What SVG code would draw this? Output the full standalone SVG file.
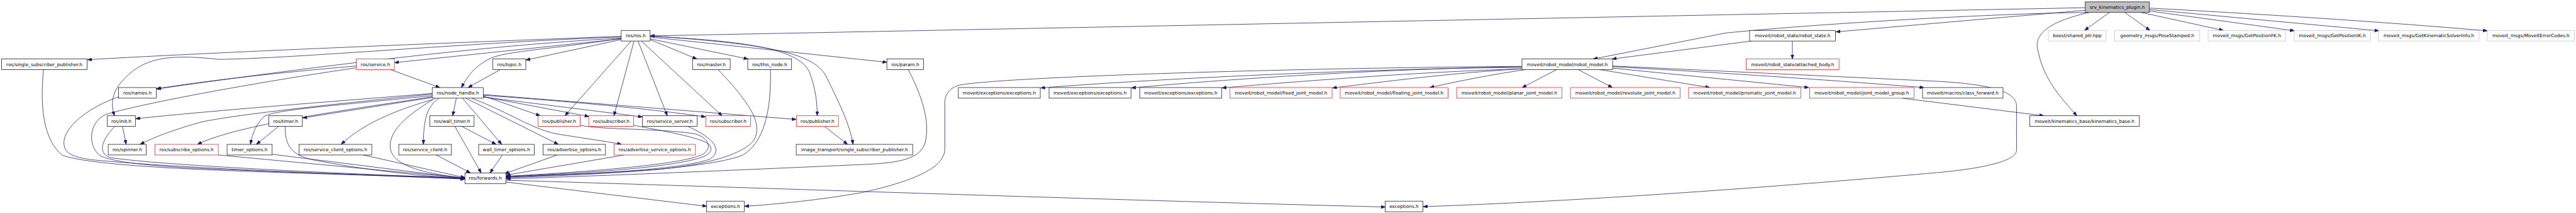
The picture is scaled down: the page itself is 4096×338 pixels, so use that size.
<svg xmlns="http://www.w3.org/2000/svg" width="4096" height="338" viewBox="0 0 4096 338">
<style>
.e{fill:none;stroke:#191970;stroke-width:1.3;marker-end:url(#arr)}
.n rect{fill:#fff;stroke:#000;stroke-width:1.2}
.r rect{fill:#fff;stroke:#ff0000;stroke-width:1.2}
.g rect{fill:#fff;stroke:#bfbfbf;stroke-width:1.2}
.s rect{fill:#bfbfbf;stroke:#000;stroke-width:1.2}
text{font-family:"DejaVu Sans","Liberation Sans",sans-serif;font-size:12.6px;text-anchor:middle;fill:#000}
</style>
<defs>
<marker id="arr" viewBox="0 0 12 9" refX="12" refY="4.5" markerWidth="12" markerHeight="9" markerUnits="userSpaceOnUse" orient="auto"><path d="M0,0 L12,4.5 L0,9 z" fill="#191970" stroke="#191970" stroke-width="1"/></marker>
</defs>
<rect width="4096" height="338" fill="#fff"/>
<g transform="scale(0.5814)">
<g id="edges">
<path class="e" d="M5703,21 L1778,98"/>
<path class="e" d="M5703,28 L5021,87"/>
<path class="e" d="M5712,34 C5500,35 5000,62 4720,90 L4357,161"/>
<path class="e" d="M5713,34 C5600,60 5560,95 5574,140 C5590,220 5640,270 5680,316"/>
<path class="e" d="M5769,34 L5701,83"/>
<path class="e" d="M5811,34 L5880,83"/>
<path class="e" d="M5856,34 L6081,83"/>
<path class="e" d="M5878,30 L6275,84"/>
<path class="e" d="M5878,26 L6506,84"/>
<path class="e" d="M5878,22 Q6400,50 6803,84"/>
<path class="e" d="M4902,112 L4902,161"/>
<path class="e" d="M4790,112 L4409,161"/>
<path class="e" d="M4162,184 C3800,186 3200,212 2846,240"/>
<path class="e" d="M4162,182 C3800,188 3400,212 3094,240"/>
<path class="e" d="M4162,188 C3900,195 3550,222 3342,240"/>
<path class="e" d="M4162,188 C3950,200 3750,228 3644,240"/>
<path class="e" d="M4172,190 C4050,208 3960,228 3910,239"/>
<path class="e" d="M4257,190 L4163,239"/>
<path class="e" d="M4316,190 L4410,239"/>
<path class="e" d="M4375,190 L4676,239"/>
<path class="e" d="M4410,186 L4947,239"/>
<path class="e" d="M4410,182 C4700,198 5000,218 5262,239"/>
<path class="e" d="M4410,180 L5300,222 C5480,232 5515,260 5515,290 L5515,410 C5515,440 5420,460 5300,471 C4800,515 4300,550 3892,564"/>
<path class="e" d="M4162,181 C3500,186 2750,210 2625,232 C2595,240 2584,260 2584,280 L2584,405 C2584,445 2540,485 2360,525 C2250,545 2120,558 2036,563"/>
<path class="e" d="M5202,268 L5590,316"/>
<path class="e" d="M1699,99 C1200,118 600,142 239,163"/>
<path class="e" d="M1699,101 C1300,115 800,160 600,162 C480,150 400,150 340,215 C300,255 305,290 313,316"/>
<path class="e" d="M1699,104 C1300,125 800,190 428,243"/>
<path class="e" d="M1699,106 L1079,171"/>
<path class="e" d="M1699,108 L1438,164"/>
<path class="e" d="M1699,105 C1500,135 1380,140 1340,160 C1300,180 1280,205 1262,239"/>
<path class="e" d="M1726,112 L1545,316"/>
<path class="e" d="M1734,112 L1679,316"/>
<path class="e" d="M1745,112 L1825,316"/>
<path class="e" d="M1754,112 L1975,316"/>
<path class="e" d="M1778,108 L1906,161"/>
<path class="e" d="M1778,106 L2046,161"/>
<path class="e" d="M1778,101 L2426,170"/>
<path class="e" d="M1778,99 C2050,112 2190,135 2215,200 C2230,240 2235,280 2235,316"/>
<path class="e" d="M1778,98 C2100,120 2230,145 2260,210 C2290,270 2325,340 2333,394"/>
<path class="e" d="M975,180 C800,195 600,215 428,242"/>
<path class="e" d="M975,185 C700,225 400,280 290,312 C240,335 240,400 275,426 C330,450 500,458 600,462 C900,475 1100,480 1272,485"/>
<path class="e" d="M1068,190 L1203,239"/>
<path class="e" d="M1368,190 L1280,239"/>
<path class="e" d="M1182,255 C900,278 600,300 371,324"/>
<path class="e" d="M1182,257 C900,285 600,318 540,336 C470,356 420,375 383,394"/>
<path class="e" d="M1182,264 C950,300 650,340 540,394"/>
<path class="e" d="M1182,261 C900,290 740,300 720,320 C700,340 690,365 685,394"/>
<path class="e" d="M1182,266 L828,322"/>
<path class="e" d="M1182,272 C1050,310 980,350 933,394"/>
<path class="e" d="M1200,268 C1170,290 1158,320 1158,394"/>
<path class="e" d="M1190,268 C1120,310 1070,350 1067,395 C1065,440 1120,470 1272,486"/>
<path class="e" d="M1248,268 L1238,316"/>
<path class="e" d="M1265,268 L1372,394"/>
<path class="e" d="M1274,268 L1527,394"/>
<path class="e" d="M1290,268 C1400,310 1450,350 1520,365 C1600,378 1660,386 1700,394"/>
<path class="e" d="M1322,262 L1478,316"/>
<path class="e" d="M1322,264 L1611,318"/>
<path class="e" d="M1322,265 L1757,319"/>
<path class="e" d="M1322,258 L2178,326"/>
<path class="e" d="M1322,260 C1600,280 1800,300 1930,319"/>
<path class="e" d="M119,190 C110,280 115,380 171,424 C260,455 600,465 800,472 C1000,478 1150,483 1272,489"/>
<path class="e" d="M325,264 C250,290 180,340 175,385 C172,420 200,428 250,436 C500,460 1000,478 1272,488"/>
<path class="e" d="M314,345 C280,380 265,415 300,430 C450,452 900,472 1272,487"/>
<path class="e" d="M335,345 L345,394"/>
<path class="e" d="M597,423 L1272,486"/>
<path class="e" d="M744,421 L1272,487"/>
<path class="e" d="M780,345 C780,390 790,420 850,435 C1000,465 1150,480 1272,488"/>
<path class="e" d="M762,345 L701,394"/>
<path class="e" d="M993,423 L1272,485"/>
<path class="e" d="M1193,423 L1287,472"/>
<path class="e" d="M1244,345 L1316,472"/>
<path class="e" d="M1263,345 L1357,394"/>
<path class="e" d="M1374,423 L1340,472"/>
<path class="e" d="M1524,423 L1380,474"/>
<path class="e" d="M1707,423 L1384,478"/>
<path class="e" d="M1881,345 C1950,375 1980,410 1940,435 C1850,465 1600,475 1384,482"/>
<path class="e" d="M1587,342 C1650,355 1800,350 1900,365 C1950,380 1945,415 1913,425 C1850,450 1600,470 1384,481"/>
<path class="e" d="M1733,342 C1800,355 1920,375 1940,395 C1955,415 1930,428 1900,435 C1800,460 1600,472 1384,482"/>
<path class="e" d="M1964,190 C2050,280 2090,340 2060,385 C2020,430 1900,455 1770,465 C1600,475 1450,480 1384,484"/>
<path class="e" d="M2107,190 C2110,300 2090,390 2030,424 C1950,455 1700,475 1384,485"/>
<path class="e" d="M2484,190 C2520,260 2545,330 2530,390 C2515,440 2440,445 2360,449 C2000,465 1600,482 1384,488"/>
<path class="e" d="M1384,497 L1933,563"/>
<path class="e" d="M1384,492 C2000,510 3000,545 3789,565"/>
<path class="e" d="M2255,345 L2318,394"/>
</g>
<g id="srv" class="s"><rect x="5703" y="5" width="175" height="29"/><text x="5790.5" y="24">srv_kinematics_plugin.h</text></g>
<g id="ros_h" class="n"><rect x="1699" y="83" width="79" height="29"/><text x="1738.5" y="102">ros/ros.h</text></g>
<g id="robot_state" class="n"><rect x="4785" y="83" width="235" height="29"/><text x="4902.5" y="102">moveit/robot_state/robot_state.h</text></g>
<g id="shared_ptr" class="g"><rect x="5602" y="83" width="158" height="29"/><text x="5681" y="102">boost/shared_ptr.hpp</text></g>
<g id="pose" class="g"><rect x="5783.5" y="83" width="232.5" height="29"/><text x="5899.75" y="102">geometry_msgs/PoseStamped.h</text></g>
<g id="fk" class="g"><rect x="6039" y="83" width="212" height="29"/><text x="6145" y="102">moveit_msgs/GetPositionFK.h</text></g>
<g id="ik" class="g"><rect x="6274.5" y="83" width="208" height="29"/><text x="6378.5" y="102">moveit_msgs/GetPositionIK.h</text></g>
<g id="gksi" class="g"><rect x="6505" y="83" width="275" height="29"/><text x="6642.5" y="102">moveit_msgs/GetKinematicSolverInfo.h</text></g>
<g id="mec" class="g"><rect x="6802.5" y="83" width="238.5" height="29"/><text x="6921.75" y="102">moveit_msgs/MoveItErrorCodes.h</text></g>
<g id="ssp" class="n"><rect x="4.5" y="161" width="233.5" height="29"/><text x="121.25" y="180">ros/single_subscriber_publisher.h</text></g>
<g id="service" class="r"><rect x="974.7" y="161" width="104" height="29"/><text x="1026.7" y="180">ros/service.h</text></g>
<g id="topic" class="n"><rect x="1348" y="161" width="90" height="29"/><text x="1393" y="180">ros/topic.h</text></g>
<g id="master" class="n"><rect x="1894" y="161" width="103" height="29"/><text x="1945.5" y="180">ros/master.h</text></g>
<g id="this_node" class="n"><rect x="2045" y="161" width="120" height="29"/><text x="2105" y="180">ros/this_node.h</text></g>
<g id="param" class="n"><rect x="2425.5" y="161" width="100.5" height="29"/><text x="2475.75" y="180">ros/param.h</text></g>
<g id="robot_model" class="n"><rect x="4162.4" y="161" width="248" height="29"/><text x="4286.4" y="180">moveit/robot_model/robot_model.h</text></g>
<g id="attached_body" class="r"><rect x="4775.7" y="161" width="253.7" height="29"/><text x="4902.55" y="180">moveit/robot_state/attached_body.h</text></g>
<g id="names" class="n"><rect x="324.4" y="239" width="102.8" height="29"/><text x="375.8" y="258">ros/names.h</text></g>
<g id="node_handle" class="n"><rect x="1182" y="239" width="140" height="29"/><text x="1252" y="258">ros/node_handle.h</text></g>
<g id="mex1" class="n"><rect x="2621" y="239" width="224" height="29"/><text x="2733" y="258">moveit/exceptions/exceptions.h</text></g>
<g id="mex2" class="n"><rect x="2869" y="239" width="224" height="29"/><text x="2981" y="258">moveit/exceptions/exceptions.h</text></g>
<g id="mex3" class="n"><rect x="3117" y="239" width="224.4" height="29"/><text x="3229.2" y="258">moveit/exceptions/exceptions.h</text></g>
<g id="fixed" class="r"><rect x="3364" y="239" width="279" height="29"/><text x="3503.5" y="258">moveit/robot_model/fixed_joint_model.h</text></g>
<g id="floating" class="r"><rect x="3665.3" y="239" width="295" height="29"/><text x="3812.8" y="258">moveit/robot_model/floating_joint_model.h</text></g>
<g id="planar" class="r"><rect x="3983.7" y="239" width="288.3" height="29"/><text x="4127.85" y="258">moveit/robot_model/planar_joint_model.h</text></g>
<g id="revolute" class="r"><rect x="4295" y="239" width="300" height="29"/><text x="4445" y="258">moveit/robot_model/revolute_joint_model.h</text></g>
<g id="prismatic" class="r"><rect x="4618" y="239" width="307" height="29"/><text x="4771.5" y="258">moveit/robot_model/prismatic_joint_model.h</text></g>
<g id="jmg" class="r"><rect x="4949" y="239" width="285.5" height="29"/><text x="5091.75" y="258">moveit/robot_model/joint_model_group.h</text></g>
<g id="class_forward" class="n"><rect x="5258" y="239" width="220" height="29"/><text x="5368" y="258">moveit/macros/class_forward.h</text></g>
<g id="init" class="n"><rect x="293" y="316" width="77.7" height="29"/><text x="331.85" y="335">ros/init.h</text></g>
<g id="timer" class="n"><rect x="735.3" y="316" width="91.7" height="29"/><text x="781.15" y="335">ros/timer.h</text></g>
<g id="wall_timer" class="n"><rect x="1175.3" y="316" width="121.4" height="29"/><text x="1236" y="335">ros/wall_timer.h</text></g>
<g id="publisher1" class="r"><rect x="1471.7" y="316" width="114.8" height="29"/><text x="1529.1" y="335">ros/publisher.h</text></g>
<g id="subscriber1" class="r"><rect x="1610" y="316" width="123" height="29"/><text x="1671.5" y="335">ros/subscriber.h</text></g>
<g id="service_server" class="n"><rect x="1757" y="316" width="149.6" height="29"/><text x="1831.8" y="335">ros/service_server.h</text></g>
<g id="subscriber2" class="r"><rect x="1930" y="316" width="123" height="29"/><text x="1991.5" y="335">ros/subscriber.h</text></g>
<g id="publisher2" class="r"><rect x="2178" y="316" width="115" height="29"/><text x="2235.5" y="335">ros/publisher.h</text></g>
<g id="kinematics_base" class="n"><rect x="5551" y="316" width="300" height="29"/><text x="5701" y="335">moveit/kinematics_base/kinematics_base.h</text></g>
<g id="spinner" class="n"><rect x="296" y="394" width="104" height="29"/><text x="348" y="413">ros/spinner.h</text></g>
<g id="subscribe_options" class="r"><rect x="423.4" y="394" width="173.6" height="29"/><text x="510.2" y="413">ros/subscribe_options.h</text></g>
<g id="timer_options" class="n"><rect x="621" y="394" width="123.3" height="29"/><text x="682.65" y="413">timer_options.h</text></g>
<g id="service_client_options" class="n"><rect x="817.7" y="394" width="199" height="29"/><text x="917.2" y="413">ros/service_client_options.h</text></g>
<g id="service_client" class="n"><rect x="1090.6" y="394" width="144" height="29"/><text x="1162.6" y="413">ros/service_client.h</text></g>
<g id="wall_timer_options" class="n"><rect x="1309" y="394" width="152" height="29"/><text x="1385" y="413">wall_timer_options.h</text></g>
<g id="advertise_options" class="n"><rect x="1485" y="394" width="171" height="29"/><text x="1570.5" y="413">ros/advertise_options.h</text></g>
<g id="advertise_service_options" class="r"><rect x="1679" y="394" width="223" height="29"/><text x="1790.5" y="413">ros/advertise_service_options.h</text></g>
<g id="it_ssp" class="n"><rect x="2177.6" y="394" width="318.4" height="29"/><text x="2336.8" y="413">image_transport/single_subscriber_publisher.h</text></g>
<g id="forwards" class="n"><rect x="1271.5" y="472" width="112" height="29"/><text x="1327.5" y="491">ros/forwards.h</text></g>
<g id="exc1" class="n"><rect x="1932.6" y="549" width="102.7" height="29"/><text x="1983.95" y="568">exceptions.h</text></g>
<g id="exc2" class="n"><rect x="3788.4" y="549" width="102.8" height="29"/><text x="3839.8" y="568">exceptions.h</text></g>
</g>
</svg>
